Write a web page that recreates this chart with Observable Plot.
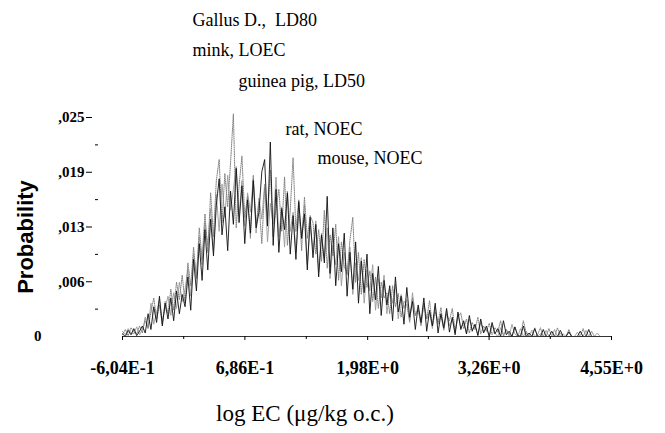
<!DOCTYPE html>
<html>
<head>
<meta charset="utf-8">
<script src="https://cdn.jsdelivr.net/npm/d3@7"></script>
<script src="https://cdn.jsdelivr.net/npm/@observablehq/plot@0.6"></script>
<style>
  html, body { margin: 0; padding: 0; background: #fff; }
</style>
</head>
<body>
<div id="chart"></div>
<script>
// ---- data ----
const xTickValues = [-0.604, 0.686, 1.98, 3.26, 4.55];
const xTickLabels = ["-6,04E-1", "6,86E-1", "1,98E+0", "3,26E+0", "4,55E+0"];
const xMinorTicks = [0.041, 1.333, 2.62, 3.905];
const yTickValues = [0, 0.00625, 0.0125, 0.01875, 0.025];
const yTickLabels = ["0", ",006", ",013", ",019", ",025"];
const yMinorTicks = [0.003125, 0.009375, 0.015625, 0.021875];

// probabilities in thousandths, 173 equal bins from -0.604 to 4.55
const seriesBlack = [
  0.3, 0.0, 0.7, 0.2, 0.9, 0.1, 0.6, 1.2, 0.4, 2.6,
  0.8, 3.4, 1.6, 4.6, 1.2, 3.8, 2.0, 4.4, 1.8, 5.2,
  2.6, 4.8, 3.4, 6.8, 3.0, 8.8, 5.2, 10.6, 6.4, 12.2,
  7.6, 13.4, 9.2, 15.0, 18.0, 11.6, 14.8, 9.8, 16.6, 12.8,
  19.2, 13.0, 17.2, 10.6, 15.6, 11.8, 17.8, 12.4, 14.2, 18.8,
  20.2, 12.6, 22.2, 10.4, 16.8, 9.6, 14.6, 12.2, 16.4, 9.4,
  13.8, 8.8, 15.4, 11.2, 14.0, 7.6, 13.6, 9.0, 12.8, 6.8,
  11.6, 8.4, 16.0, 7.2, 12.4, 5.8, 10.6, 7.4, 11.8, 4.6,
  9.6, 5.4, 10.8, 3.8, 8.6, 5.0, 9.4, 2.6, 7.2, 4.2,
  8.0, 2.4, 6.4, 3.6, 5.8, 1.8, 6.8, 2.8, 4.6, 1.4,
  5.6, 2.2, 4.0, 0.8, 3.6, 1.6, 4.4, 0.6, 3.0, 1.2,
  3.8, 0.4, 2.6, 1.0, 3.2, 0.5, 2.2, 0.2, 2.8, 0.8,
  1.8, 0.3, 2.4, 0.6, 1.4, 0.1, 2.0, 0.4, 1.2, 0.0,
  1.6, 0.3, 0.9, 0.0, 1.8, 0.2, 0.6, 0.0, 1.1, 0.1,
  0.0, 1.2, 0.0, 0.4, 0.0, 0.9, 0.0, 0.0, 0.8, 0.0,
  0.0, 0.6, 0.0, 0.0, 0.7, 0.0, 0.0, 0.5, 0.0, 0.0,
  0.0, 0.6, 0.0, 0.0, 0.8, 0.0, 0.0, 0.0, 0.0, 0.0,
  0.0, 0.0, 0.0
];
const seriesGray = [
  0.6, 0.2, 0.9, 0.4, 0.3, 1.1, 0.2, 0.8, 1.8, 0.9,
  3.8, 1.4, 2.8, 4.2, 1.8, 3.2, 4.6, 2.4, 5.0, 3.2,
  6.2, 4.0, 5.4, 7.6, 4.6, 9.4, 6.8, 11.4, 8.2, 13.0,
  10.4, 14.6, 9.8, 16.2, 12.0, 17.4, 13.6, 18.4, 14.4, 16.8,
  19.4, 13.8, 17.8, 12.6, 16.4, 14.2, 18.0, 11.8, 15.8, 13.4,
  17.4, 10.8, 15.2, 12.8, 18.2, 11.4, 14.8, 10.2, 16.6, 12.0,
  14.2, 9.6, 13.8, 11.6, 15.0, 8.2, 12.6, 10.0, 13.2, 7.4,
  11.8, 8.8, 12.4, 6.6, 10.4, 8.2, 11.4, 5.8, 9.6, 7.0,
  10.2, 4.8, 8.4, 6.4, 9.0, 3.8, 7.6, 5.2, 8.2, 3.0,
  6.6, 4.4, 7.0, 2.6, 5.4, 3.8, 6.0, 2.0, 4.8, 3.2,
  4.2, 1.6, 5.0, 2.4, 3.4, 1.2, 3.8, 2.0, 2.8, 0.9,
  3.4, 1.4, 2.4, 0.7, 3.0, 1.2, 2.0, 0.4, 2.6, 1.0,
  1.6, 0.3, 2.0, 0.8, 1.2, 0.2, 1.6, 0.5, 0.9, 0.0,
  1.3, 0.4, 0.0, 1.0, 0.2, 0.8, 0.0, 1.4, 0.3, 0.0,
  0.9, 0.0, 0.6, 0.0, 0.0, 1.0, 0.0, 0.3, 0.0, 0.7,
  0.0, 0.0, 0.8, 0.0, 0.4, 0.0, 0.0, 0.6, 0.0, 0.0,
  0.5, 0.0, 0.0, 0.7, 0.0, 0.0, 0.0, 0.4, 0.0, 0.0,
  0.0, 0.0, 0.0
];
const seriesDotted = [
  0.2, 0.8, 0.1, 1.0, 0.5, 0.3, 1.2, 0.4, 2.2, 1.0,
  2.8, 4.4, 2.0, 3.6, 1.4, 4.0, 2.6, 5.4, 3.0, 6.2,
  4.2, 7.0, 3.8, 8.4, 5.8, 10.2, 6.6, 12.4, 8.8, 14.0,
  9.6, 16.4, 11.4, 17.8, 20.2, 13.0, 18.6, 14.8, 19.8, 25.4,
  12.4, 17.2, 20.6, 13.6, 16.0, 11.2, 18.4, 12.8, 15.4, 10.6,
  17.0, 13.2, 19.0, 11.4, 14.6, 16.8, 12.0, 18.2, 10.4, 14.4,
  20.4, 12.0, 15.6, 9.8, 15.9, 11.2, 13.8, 13.0, 9.4, 12.2,
  8.6, 14.4, 7.8, 11.6, 9.2, 12.8, 6.4, 10.8, 8.0, 7.2,
  11.0, 13.6, 6.2, 9.6, 4.8, 8.8, 5.6, 7.5, 4.0, 6.8,
  3.2, 6.2, 4.4, 5.0, 2.6, 5.8, 3.4, 4.9, 2.2, 4.0,
  3.6, 1.8, 4.4, 2.4, 3.0, 1.4, 3.8, 2.0, 4.1, 1.2,
  2.8, 1.6, 3.3, 0.8, 2.6, 1.8, 3.2, 0.6, 2.2, 2.7,
  0.9, 2.0, 0.4, 1.6, 0.8, 2.2, 0.3, 1.2, 0.6, 1.5,
  0.2, 1.0, 0.5, 1.8, 0.0, 0.8, 0.3, 0.0, 1.1, 0.2,
  0.0, 1.8, 0.4, 0.0, 0.7, 0.0, 0.2, 1.0, 0.0, 0.0,
  0.9, 0.0, 0.0, 1.0, 0.0, 0.3, 0.0, 0.8, 0.0, 0.0,
  0.0, 0.0, 0.9, 0.0, 0.0, 0.6, 0.0, 0.0, 0.0, 0.0,
  0.0, 0.0, 0.0
];

const annotationTexts = ["Gallus D.,\u00a0 LD80", "mink, LOEC", "guinea pig, LD50", "rat, NOEC", "mouse, NOEC"];
const annotationX = [0.134, 0.134, 0.618, 1.114, 1.451];
const annotationY = [0.0361, 0.0327, 0.0291, 0.0237, 0.0203];

const xTitle = "log EC (\u03bcg/kg o.c.)";
const yTitle = "Probability";

// ---- build tables ----
const lo = xTickValues[0], hi = xTickValues[xTickValues.length - 1];
function toRows(values, name) {
  const n = values.length;
  return values.map((v, i) => ({x: lo + i * (hi - lo) / (n - 1), p: v / 1000, name}));
}
const rowsBlack = toRows(seriesBlack, "black");
const rowsGray = toRows(seriesGray, "gray");
const rowsDotted = toRows(seriesDotted, "dotted");
const annotations = annotationTexts.map((t, i) => ({t, x: annotationX[i], y: annotationY[i]}));

const xLab = d => xTickLabels[xTickValues.indexOf(d)];
const yLab = d => yTickLabels[yTickValues.indexOf(d)];
const serif = "'Liberation Serif', 'Times New Roman', serif";

const chart = Plot.plot({
  width: 665,
  height: 433,
  marginLeft: 122,
  marginRight: 54,
  marginTop: 117,
  marginBottom: 97,
  style: {fontFamily: serif, background: "#fff", color: "#000"},
  x: {domain: [lo, hi]},
  y: {domain: [0, 0.025]},
  marks: [
    Plot.lineY(rowsGray, {x: "x", y: "p", stroke: "#9a9a9a", strokeWidth: 0.9}),
    Plot.lineY(rowsDotted, {x: "x", y: "p", stroke: "#808080", strokeWidth: 1, strokeDasharray: "1,1.2"}),
    Plot.lineY(rowsBlack, {x: "x", y: "p", stroke: "#111", strokeWidth: 0.9}),
    Plot.ruleY([0], {stroke: "#333", strokeWidth: 1.2}),
    // x axis
    Plot.axisX(xTickValues, {tickSize: 4, tickPadding: 21, tickFormat: xLab, fontSize: 18, fontWeight: "bold", fontFamily: serif, label: null}),
    Plot.axisX(xMinorTicks, {tickSize: 3, tickFormat: () => "", label: null}),
    // y axis (detached to the left)
    Plot.axisY(yTickValues.slice(1), {tickSize: 6, tickPadding: 2, dx: -30, tickFormat: yLab, fontSize: 15, fontWeight: "bold", fontFamily: serif, label: null}),
    Plot.axisY(yTickValues.slice(0, 1), {tickSize: 0, tickPadding: 0, dx: -81, tickFormat: yLab, fontSize: 15, fontWeight: "bold", fontFamily: serif, label: null}),
    Plot.axisY(yMinorTicks, {tickSize: 3, dx: -24, tickFormat: () => "", label: null}),
    // titles
    Plot.text([yTitle], {text: d => d, frameAnchor: "left", rotate: -90, dx: -97, dy: 10, fontSize: 22, fontWeight: "bold", fontFamily: "'Liberation Sans', Arial, sans-serif", textAnchor: "middle", lineAnchor: "middle"}),
    Plot.text([xTitle], {text: d => d, frameAnchor: "bottom", dx: -62, dy: 77, fontSize: 23, fontFamily: serif, lineAnchor: "middle"}),
    // annotations
    Plot.text(annotations, {x: "x", y: "y", text: "t", textAnchor: "start", lineAnchor: "middle", fontSize: 18, fontFamily: serif})
  ]
});
document.getElementById("chart").appendChild(chart);
</script>
</body>
</html>
